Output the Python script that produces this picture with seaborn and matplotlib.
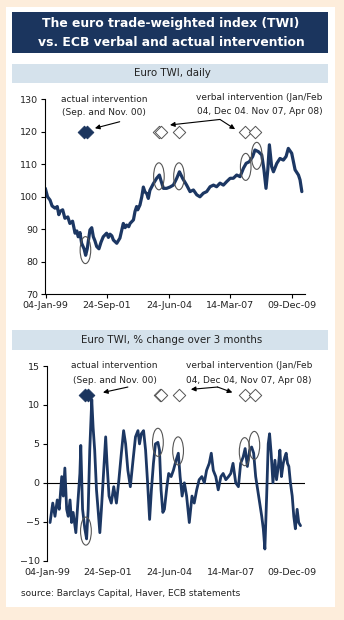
import matplotlib
matplotlib.use("Agg")
import matplotlib.pyplot as plt
from matplotlib.patches import Rectangle, Ellipse
import seaborn as sns
import pandas as pd

# ---------------- data ----------------
twi_year = [1999.00, 1999.10, 1999.21, 1999.30, 1999.43, 1999.53, 1999.60, 1999.65, 1999.77, 1999.87,
            2000.00, 2000.09, 2000.21, 2000.32, 2000.40, 2000.46, 2000.54, 2000.61, 2000.72, 2000.79,
            2000.86, 2000.98, 2001.06, 2001.13, 2001.20, 2001.28, 2001.38, 2001.47, 2001.57, 2001.72,
            2001.80, 2001.87, 2001.95, 2002.02, 2002.17, 2002.31, 2002.46, 2002.54, 2002.61, 2002.70,
            2002.76, 2002.91, 2002.98, 2003.05, 2003.10, 2003.20, 2003.28, 2003.35, 2003.42, 2003.50,
            2003.57, 2003.64, 2003.79, 2003.94, 2004.06, 2004.13, 2004.24, 2004.38, 2004.53, 2004.68,
            2004.83, 2004.95, 2005.09, 2005.27, 2005.42, 2005.57, 2005.72, 2005.86, 2006.01, 2006.16,
            2006.31, 2006.46, 2006.60, 2006.75, 2006.90, 2007.05, 2007.20, 2007.34, 2007.49, 2007.64,
            2007.79, 2007.91, 2008.05, 2008.20, 2008.30, 2008.45, 2008.60, 2008.70, 2008.79, 2008.87,
            2008.94, 2009.04, 2009.12, 2009.27, 2009.41, 2009.56, 2009.68, 2009.78, 2009.93, 2010.08,
            2010.23, 2010.30, 2010.38]
twi_value = [102.6, 100.0, 99.0, 97.2, 96.5, 97.0, 94.5, 95.5, 96.0, 93.4,
             93.8, 91.8, 92.5, 88.8, 89.5, 87.7, 89.0, 85.7, 84.0, 82.0,
             84.0, 89.8, 90.5, 87.7, 86.5, 84.7, 84.0, 86.0, 87.7, 88.8,
             87.5, 88.5, 88.0, 86.7, 85.7, 87.3, 91.8, 90.5, 91.3, 90.8,
             91.8, 92.9, 95.5, 97.0, 96.0, 97.5, 100.0, 103.0, 101.5, 101.0,
             99.5, 102.0, 104.0, 105.7, 106.7, 105.0, 102.6, 102.6, 103.0, 103.6,
             105.7, 107.7, 105.7, 103.6, 101.6, 102.1, 100.6, 100.0, 101.1, 101.6,
             103.1, 103.6, 103.1, 104.2, 103.6, 104.7, 105.7, 105.7, 106.7, 106.2,
             108.8, 110.3, 110.8, 112.4, 114.4, 113.9, 112.9, 108.3, 102.6, 108.3,
             116.0, 109.3, 107.7, 110.3, 111.8, 111.3, 112.4, 114.9, 113.4, 108.3,
             106.7, 105.2, 101.6]

chg_year = [1999.15, 1999.27, 1999.37, 1999.47, 1999.56, 1999.67, 1999.74, 1999.81, 1999.89,
            1999.96, 2000.04, 2000.11, 2000.18, 2000.30, 2000.41, 2000.48, 2000.52, 2000.60,
            2000.70, 2000.78, 2000.85, 2000.92, 2001.01, 2001.07, 2001.14, 2001.22, 2001.29,
            2001.37, 2001.44, 2001.51, 2001.63, 2001.69, 2001.78, 2001.88, 2001.99, 2002.11,
            2002.22, 2002.33, 2002.43, 2002.52, 2002.62, 2002.73, 2002.85, 2002.96, 2003.07,
            2003.14, 2003.22, 2003.32, 2003.41, 2003.50, 2003.59, 2003.67, 2003.76, 2003.85,
            2003.96, 2004.03, 2004.10, 2004.18, 2004.25, 2004.36, 2004.44, 2004.55, 2004.65,
            2004.77, 2004.87, 2004.95, 2005.04, 2005.14, 2005.24, 2005.36, 2005.48, 2005.58,
            2005.69, 2005.80, 2005.92, 2006.03, 2006.13, 2006.25, 2006.34, 2006.43, 2006.54,
            2006.65, 2006.77, 2006.87, 2006.99, 2007.11, 2007.21, 2007.31, 2007.43, 2007.55,
            2007.65, 2007.76, 2007.85, 2007.95, 2008.05, 2008.14, 2008.23, 2008.32, 2008.41,
            2008.50, 2008.59, 2008.66, 2008.73, 2008.81, 2008.88, 2008.94, 2009.01, 2009.09,
            2009.18, 2009.25, 2009.33, 2009.40, 2009.47, 2009.55, 2009.62, 2009.68, 2009.74,
            2009.80, 2009.87, 2009.95, 2010.02, 2010.09, 2010.17, 2010.24, 2010.32]
chg_value = [-5.1, -2.6, -4.3, -2.2, -3.4, 0.8, -1.7, 1.9, -3.4,
             -4.3, -2.2, -5.1, -3.8, -6.4, -1.7, 1.2, 4.8, -3.4,
             -5.9, -7.2, -3.4, 4.2, 10.7, 7.1, 4.2, -0.9, -3.4,
             -6.4, -3.4, 0.0, 5.9, 2.5, -1.7, -2.6, -0.5, -2.6,
             0.4, 3.8, 6.7, 5.0, 1.6, -0.5, 2.9, 5.9, 6.7,
             5.0, 6.3, 6.7, 4.2, 0.0, -4.7, -0.9, 2.5, 5.0,
             5.2, 4.2, -0.9, -3.8, -3.4, -0.5, 1.2, 0.8, 1.6,
             2.9, 3.8, 0.8, -1.7, 0.0, -1.7, -5.1, -1.7, -2.6,
             -0.9, 0.4, 0.8, 0.0, 1.6, 2.5, 3.8, 1.6, 0.8,
             -0.9, 0.8, 1.2, 0.4, 0.8, 1.2, 2.5, 0.0, -0.5,
             2.5, 3.3, 4.4, 2.1, 4.2, 4.6, 3.8, 0.8, -0.9,
             -2.6, -4.3, -5.9, -8.5, -1.7, 5.0, 6.3, 3.8, 0.0,
             2.9, 0.4, 2.1, 4.2, 0.8, 2.5, 3.3, 3.8, 2.5,
             2.1, 0.0, -1.7, -4.3, -5.9, -3.4, -5.1, -5.5]

actual_dates = [2000.72, 2000.84]            # Sep. and Nov. 2000
verbal_dates = [2004.04, 2004.12, 2004.92, 2007.85, 2008.28]  # Jan/Feb 04, Dec 04, Nov 07, Apr 08
top_circles = [(2000.78, 83.6), (2004.04, 106.3), (2004.93, 106.3), (2007.89, 109.2), (2008.38, 112.6)]
bot_circles = [(2000.75, -6.2), (2003.96, 5.2), (2004.86, 4.1), (2007.83, 4.0), (2008.26, 4.8)]

tick_pos = [1999.01, 2001.73, 2004.48, 2007.20, 2009.94]
tick_labels = ["04-Jan-99", "24-Sep-01", "24-Jun-04", "14-Mar-07", "09-Dec-09"]

# ---------------- style ----------------
sns.set_theme(style="white")
plt.rcParams["font.family"] = ["DejaVu Sans"]
NAVY = "#1b355e"
LINE = "#1c3763"
PEACH = "#fdeddb"
STRIP = "#d5e2ec"

W, H = 344, 620
fig = plt.figure(figsize=(W / 100, H / 100), dpi=100, facecolor=PEACH)


def px_rect(x0, y0, x1, y1, color):
    fig.add_artist(Rectangle((x0 / W, 1 - y1 / H), (x1 - x0) / W, (y1 - y0) / H,
                             transform=fig.transFigure, facecolor=color, edgecolor="none", zorder=0))


px_rect(6, 7, 335, 607, "white")
px_rect(12, 12, 328, 53, NAVY)
px_rect(12, 64, 328, 83, STRIP)
px_rect(12, 330, 328, 350, STRIP)

fig.text(171 / W, 1 - 23.5 / H, "The euro trade-weighted index (TWI)", color="white",
         fontsize=8.9, fontweight="bold", ha="center", va="center")
fig.text(171 / W, 1 - 42 / H, "vs. ECB verbal and actual intervention", color="white",
         fontsize=8.9, fontweight="bold", ha="center", va="center")
fig.text(172 / W, 1 - 73.5 / H, "Euro TWI, daily", color="#222222", fontsize=7.4, ha="center", va="center")
fig.text(172 / W, 1 - 340 / H, "Euro TWI, % change over 3 months", color="#222222", fontsize=7.4,
         ha="center", va="center")
fig.text(21 / W, 1 - 593 / H, "source: Barclays Capital, Haver, ECB statements", color="#222222",
         fontsize=6.5, ha="left", va="center")

twi_df = pd.DataFrame({"year": twi_year, "value": twi_value})
chg_df = pd.DataFrame({"year": chg_year, "value": chg_value})

XMIN, XMAX = 1999.0, 2010.52

# ---------------- top chart ----------------
ax1 = fig.add_axes([45.3 / W, 1 - 294.3 / H, (305 - 45.3) / W, (294.3 - 99.3) / H])
ax1.set_facecolor("none")
sns.lineplot(data=twi_df, x="year", y="value", ax=ax1, color=LINE, lw=2.3)
sns.scatterplot(x=actual_dates, y=[120] * len(actual_dates), ax=ax1, marker="D", s=42,
                color=NAVY, edgecolor=NAVY, linewidth=0.6, zorder=5)
sns.scatterplot(x=verbal_dates, y=[120] * len(verbal_dates), ax=ax1, marker="D", s=40,
                facecolor="white", edgecolor="#555555", linewidth=0.7, zorder=5)
for cx, cy in top_circles:
    ax1.add_patch(Ellipse((cx, cy), 0.47, 8.3, facecolor="none", edgecolor="#555555", lw=0.8, zorder=6))
ax1.set_xlim(XMIN, XMAX)
ax1.set_ylim(70, 130)
ax1.set_yticks(range(70, 131, 10))

ax1.text(2001.62, 130, "actual intervention", fontsize=6.5, ha="center", va="center", color="#222222")
ax1.text(2001.62, 125.9, "(Sep. and Nov. 00)", fontsize=6.5, ha="center", va="center", color="#222222")
ax1.text(2008.5, 130.6, "verbal intervention (Jan/Feb", fontsize=6.5, ha="center", va="center", color="#222222")
ax1.text(2008.5, 126.3, "04, Dec 04. Nov 07, Apr 08)", fontsize=6.5, ha="center", va="center", color="#222222")
arrow = dict(arrowstyle="-|>", color="black", lw=0.8, mutation_scale=7, shrinkA=0, shrinkB=0)
ax1.annotate("", xy=(2001.2, 121.1), xytext=(2002.3, 123.1), arrowprops=arrow)
ax1.annotate("", xy=(2004.53, 122.1), xytext=(2006.75, 123.8), arrowprops=arrow)
ax1.annotate("", xy=(2007.42, 120.8), xytext=(2006.75, 123.8), arrowprops=arrow)

# ---------------- bottom chart ----------------
ax2 = fig.add_axes([46.7 / W, 1 - 560.7 / H, (305 - 46.7) / W, (560.7 - 366) / H])
ax2.set_facecolor("none")
ax2.axhline(0, color="black", lw=0.8, zorder=1)
sns.lineplot(data=chg_df, x="year", y="value", ax=ax2, color=LINE, lw=2.0, zorder=3)
sns.scatterplot(x=actual_dates, y=[11.3] * len(actual_dates), ax=ax2, marker="D", s=42,
                color=NAVY, edgecolor=NAVY, linewidth=0.6, zorder=5)
sns.scatterplot(x=verbal_dates, y=[11.3] * len(verbal_dates), ax=ax2, marker="D", s=40,
                facecolor="white", edgecolor="#555555", linewidth=0.7, zorder=5)
for cx, cy in bot_circles:
    ax2.add_patch(Ellipse((cx, cy), 0.48, 3.6, facecolor="none", edgecolor="#555555", lw=0.8, zorder=6))
ax2.set_xlim(XMIN, XMAX)
ax2.set_ylim(-10, 15)
ax2.set_yticks([-10, -5, 0, 5, 10, 15])

ax2.text(2002.03, 15.0, "actual intervention", fontsize=6.5, ha="center", va="center", color="#222222")
ax2.text(2002.03, 13.2, "(Sep. and Nov. 00)", fontsize=6.5, ha="center", va="center", color="#222222")
ax2.text(2008.02, 15.0, "verbal intervention (Jan/Feb", fontsize=6.5, ha="center", va="center", color="#222222")
ax2.text(2008.02, 13.2, "04, Dec 04, Nov 07, Apr 08)", fontsize=6.5, ha="center", va="center", color="#222222")
ax2.annotate("", xy=(2001.51, 11.6), xytext=(2002.62, 12.3), arrowprops=arrow)
ax2.annotate("", xy=(2005.43, 12.0), xytext=(2006.62, 12.3), arrowprops=arrow)
ax2.annotate("", xy=(2007.28, 11.6), xytext=(2006.62, 12.3), arrowprops=arrow)

for ax in (ax1, ax2):
    ax.set_xlabel("")
    ax.set_ylabel("")
    ax.set_xticks(tick_pos)
    ax.set_xticklabels(tick_labels)
    for s in ("top", "right"):
        ax.spines[s].set_visible(False)
    ax.spines["left"].set_color("black")
    ax.spines["left"].set_linewidth(0.8)
    ax.spines["bottom"].set_color("black")
    ax.spines["bottom"].set_linewidth(0.8)
    ax.tick_params(axis="both", labelsize=6.8, colors="#222222", length=3, width=0.8,
                   direction="out", pad=2)
    ax.tick_params(axis="y", left=True, color="black")
    ax.tick_params(axis="x", bottom=True, color="black")
    ax.grid(False)

ax2.spines["bottom"].set_visible(False)
ax2.tick_params(axis="x", length=0, pad=5)

fig.savefig("out.png", dpi=100, facecolor=PEACH)
